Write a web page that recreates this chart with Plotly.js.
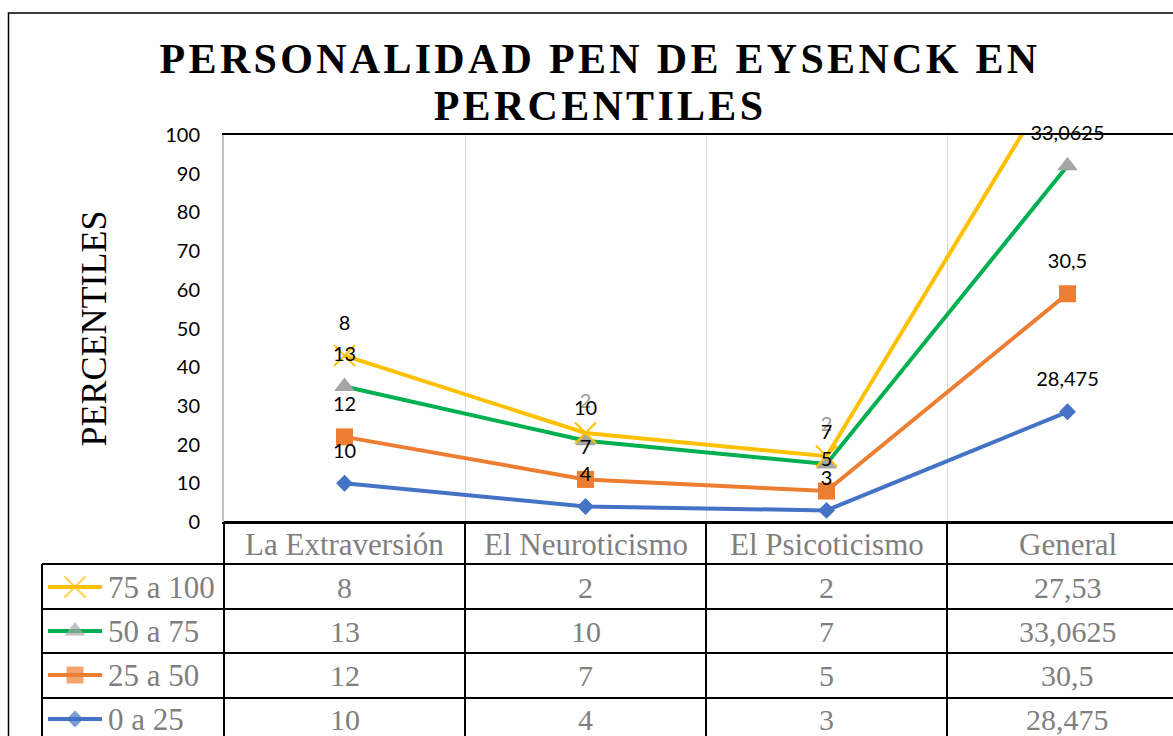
<!DOCTYPE html>
<html>
<head>
<meta charset="utf-8">
<script src="https://cdn.plot.ly/plotly-3.0.1.min.js"></script>
<style>
html,body{margin:0;padding:0;overflow:hidden;background:#fff;}
#chart{width:1200px;height:736px;}
.gtitle{letter-spacing:3.3px;}
</style>
</head>
<body>
<div id="chart"></div>
<script>
// ---- data ----
const categories = ['La Extraversión', 'El Neuroticismo', 'El Psicoticismo', 'General'];
const seriesNames = ['0 a 25', '25 a 50', '50 a 75', '75 a 100'];
const v0a25   = [10, 4, 3, 28.475];
const v25a50  = [12, 7, 5, 30.5];
const v50a75  = [13, 10, 7, 33.0625];
const v75a100 = [8, 2, 2, 27.53];
const yTickVals = [0, 10, 20, 30, 40, 50, 60, 70, 80, 90, 100];

// ---- styles / layout geometry ----
const W = 1200, H = 736;
const PL = 224, PR = 1188, PT = 135, PB = 522;
const colW = (PR - PL) / categories.length;
const serif = 'Liberation Serif, Times New Roman, serif';
const sans = 'Lato, Carlito, Calibri, sans-serif';
const grey = '#7f7f7f';

const seriesValues = [v0a25, v25a50, v50a75, v75a100];
const colors = ['#4472C4', '#ED7D31', '#00B050', '#FFC000'];
const markerStyles = [
  {symbol: 'diamond', size: 13, color: '#4472C4', line: {width: 0}},
  {symbol: 'square', size: 17, color: '#ED7D31', line: {width: 0}},
  {symbol: 'triangle-up', size: 18, color: '#A5A5A5', line: {width: 0}},
  {symbol: 'x-thin', size: 21, color: '#FFC000', line: {color: '#FFC000', width: 2}}
];
const labelColors = [
  '#000', '#000', '#000',
  ['#000', '#9b9b9b', '#9b9b9b', '#000']
];

const fmt = v => String(v).replace('.', ',');

// cumulative (stacked) values
const cum = [];
let run = categories.map(() => 0);
seriesValues.forEach(vals => {
  run = run.map((r, j) => r + vals[j]);
  cum.push(run.slice());
});
const yMax = yTickVals[yTickVals.length - 1];

const traces = [];
// lines + markers
seriesValues.forEach((vals, i) => {
  traces.push({
    type: 'scatter', x: categories, y: cum[i], name: seriesNames[i],
    mode: 'lines+markers',
    line: {color: colors[i], width: 4},
    marker: markerStyles[i],
    cliponaxis: true, hoverinfo: 'skip', showlegend: false,
    xaxis: 'x', yaxis: 'y'
  });
});
// data labels (top series first so others sit above it)
[3, 0, 1, 2].forEach(i => {
  traces.push({
    type: 'scatter', x: categories, y: cum[i],
    mode: 'markers+text',
    text: seriesValues[i].map((v, j) => cum[i][j] <= yMax ? fmt(v) : ''),
    textposition: 'top center',
    textfont: {family: sans, size: 20, color: labelColors[i]},
    marker: {size: 31, color: 'rgba(0,0,0,0)'},
    cliponaxis: false, hoverinfo: 'skip', showlegend: false,
    xaxis: 'x', yaxis: 'y'
  });
});

// table rows (top to bottom)
const rowOrder = [3, 2, 1, 0];
const rowY = [587, 631, 675, 719];
const rowLines = [564, 609, 653, 698];
const headerY = 544;

// legend keys in table (pixel overlay axes)
rowOrder.forEach((i, r) => {
  const ms = Object.assign({}, markerStyles[i], {size: [0, markerStyles[i].size, 0]});
  traces.push({
    type: 'scatter', x: [48, 75, 102], y: [rowY[r], rowY[r], rowY[r]],
    mode: 'lines+markers', line: {color: colors[i], width: 4},
    marker: ms, hoverinfo: 'skip', showlegend: false,
    xaxis: 'x2', yaxis: 'y2'
  });
});

const annotations = [];
categories.forEach((c, j) => {
  annotations.push({xref: 'x', yref: 'y2', x: c, y: headerY, text: c, showarrow: false,
    xanchor: 'center', yanchor: 'middle', font: {family: serif, size: 31, color: grey}});
});
rowOrder.forEach((i, r) => {
  annotations.push({xref: 'x2', yref: 'y2', x: 106, y: rowY[r], text: seriesNames[i], showarrow: false,
    xanchor: 'left', yanchor: 'middle', font: {family: serif, size: 31, color: grey}});
  categories.forEach((c, j) => {
    annotations.push({xref: 'x', yref: 'y2', x: c, y: rowY[r], text: fmt(seriesValues[i][j]), showarrow: false,
      xanchor: 'center', yanchor: 'middle', font: {family: serif, size: 30, color: grey}});
  });
});

const shapes = [];
const ln = (x0, y0, x1, y1, w, c) => ({type: 'line', xref: 'x2', yref: 'y2', x0, y0, x1, y1,
  line: {color: c || '#000', width: w || 2}});
// outer chart border
shapes.push({type: 'rect', xref: 'x2', yref: 'y2', x0: 8.5, y0: 13, x1: 1300, y1: 900,
  line: {color: '#000', width: 1.5}, fillcolor: 'rgba(0,0,0,0)'});
// table
shapes.push(ln(PL, PB, 1300, PB));
rowLines.forEach(y => shapes.push(ln(42, y, 1300, y)));
shapes.push(ln(42, rowLines[0], 42, 900));
for (let k = 0; k <= categories.length; k++) {
  const x = PL + k * colW;
  shapes.push(ln(x, PB, x, 900));
}

const layout = {
  width: W, height: H,
  margin: {l: 0, r: 0, t: 0, b: 0},
  paper_bgcolor: '#fff', plot_bgcolor: 'rgba(0,0,0,0)',
  showlegend: false,
  title: {
    text: 'PERSONALIDAD PEN DE EYSENCK EN<br>PERCENTILES',
    font: {family: serif, size: 42, weight: 'bold', color: '#000'},
    xref: 'container', x: 600 / W, xanchor: 'center',
    yref: 'container', y: 1 - 73 / H, yanchor: 'top'
  },
  xaxis: {
    domain: [PL / W, PR / W], anchor: 'y', type: 'category',
    range: [-0.5, categories.length - 0.5],
    showticklabels: false, ticks: '', tickson: 'boundaries',
    showgrid: true, gridcolor: '#d9d9d9', gridwidth: 1,
    showline: true, mirror: true, linecolor: '#000', linewidth: 2,
    layer: 'below traces', zeroline: false, fixedrange: true
  },
  yaxis: {
    domain: [1 - PB / H, 1 - PT / H], anchor: 'x',
    range: [0, yMax], tickvals: yTickVals, ticktext: yTickVals.map(String),
    ticks: '', ticklabelstandoff: 18,
    tickfont: {family: sans, size: 20, color: '#000'},
    showgrid: false, zeroline: false,
    showline: true, linecolor: '#c4c4c4', linewidth: 2, layer: 'below traces',
    title: {text: 'PERCENTILES', font: {family: serif, size: 36, color: '#000'}, standoff: 48},
    fixedrange: true
  },
  xaxis2: {domain: [0, 1], anchor: 'y2', range: [0, W], visible: false, fixedrange: true},
  yaxis2: {domain: [0, 1], anchor: 'x2', range: [H, 0], visible: false, fixedrange: true},
  shapes: shapes,
  annotations: annotations
};

Plotly.newPlot('chart', traces, layout, {staticPlot: true, displayModeBar: false}).then(() => {
  document.querySelectorAll('.gtitle tspan.line').forEach(t => {
    if (t.getAttribute('dy') === '1.3em') t.setAttribute('dy', '1.13em');
  });
});
</script>
</body>
</html>
